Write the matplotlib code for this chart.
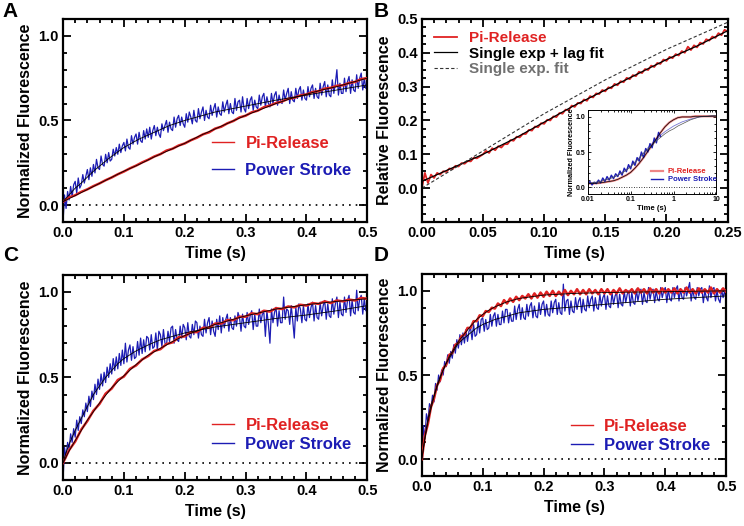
import matplotlib
matplotlib.use('Agg')
import matplotlib.pyplot as plt
import numpy as np
from matplotlib.ticker import MultipleLocator, FormatStrFormatter, FixedLocator, NullFormatter, LogLocator

plt.rcParams['font.family'] = ['Liberation Sans', 'DejaVu Sans']
plt.rcParams['font.weight'] = 'bold'
plt.rcParams['axes.labelweight'] = 'bold'

RED = '#e02222'
BLUE = '#1c1cb4'

# ---------------- Panel A data ----------------
tA_blue = np.arange(201) * 0.0025
A_blue = [-0.10, 0.06, -0.02, 0.08, 0.03, 0.11, 0.05, 0.12, 0.14, 0.07, 0.16, 0.10,
          0.12, 0.18, 0.13, 0.17, 0.21, 0.15, 0.22, 0.17, 0.24, 0.19, 0.27, 0.22,
          0.21, 0.29, 0.24, 0.23, 0.30, 0.25, 0.31, 0.26, 0.27, 0.33, 0.29, 0.34,
          0.30, 0.36, 0.31, 0.35, 0.37, 0.32, 0.39, 0.34, 0.33, 0.41, 0.36, 0.40,
          0.42, 0.36, 0.43, 0.38, 0.37, 0.44, 0.39, 0.45, 0.40, 0.46, 0.39, 0.44,
          0.47, 0.41, 0.46, 0.42, 0.40, 0.48, 0.44, 0.47, 0.50, 0.43, 0.49, 0.45,
          0.44, 0.52, 0.46, 0.51, 0.53, 0.47, 0.52, 0.48, 0.46, 0.54, 0.49, 0.55,
          0.52, 0.48, 0.56, 0.50, 0.49, 0.57, 0.51, 0.55, 0.58, 0.50, 0.56, 0.52,
          0.51, 0.59, 0.53, 0.57, 0.60, 0.52, 0.58, 0.54, 0.53, 0.61, 0.55, 0.59,
          0.62, 0.54, 0.60, 0.55, 0.54, 0.63, 0.56, 0.61, 0.62, 0.55, 0.64, 0.57,
          0.55, 0.63, 0.57, 0.62, 0.64, 0.56, 0.62, 0.58, 0.57, 0.65, 0.59, 0.64,
          0.66, 0.58, 0.64, 0.60, 0.58, 0.66, 0.60, 0.65, 0.67, 0.59, 0.65, 0.61,
          0.60, 0.68, 0.62, 0.66, 0.69, 0.60, 0.67, 0.62, 0.61, 0.69, 0.63, 0.68,
          0.70, 0.62, 0.68, 0.63, 0.62, 0.70, 0.64, 0.69, 0.71, 0.63, 0.69, 0.64,
          0.63, 0.72, 0.65, 0.70, 0.73, 0.64, 0.71, 0.65, 0.64, 0.74, 0.66, 0.72,
          0.80, 0.65, 0.72, 0.66, 0.66, 0.75, 0.67, 0.73, 0.76, 0.66, 0.74, 0.68,
          0.67, 0.77, 0.69, 0.75, 0.78, 0.68, 0.75, 0.69, 0.72]
tA_red = np.arange(51) * 0.01
A_red = [0.02, 0.045, 0.058, 0.078, 0.093, 0.112, 0.128, 0.147, 0.163, 0.182,
         0.198, 0.217, 0.233, 0.252, 0.268, 0.287, 0.301, 0.322, 0.333, 0.352,
         0.364, 0.383, 0.398, 0.418, 0.43, 0.452, 0.463, 0.483, 0.497, 0.518,
         0.528, 0.548, 0.558, 0.578, 0.588, 0.603, 0.612, 0.628, 0.634, 0.648,
         0.654, 0.668, 0.673, 0.688, 0.693, 0.705, 0.708, 0.722, 0.728, 0.745,
         0.75]
tA_fit_blue = [0, 0.01, 0.02, 0.03, 0.04, 0.05, 0.075, 0.1, 0.125, 0.15, 0.175,
               0.2, 0.25, 0.3, 0.35, 0.4, 0.45, 0.5]
A_fit_blue = [0.02, 0.06, 0.10, 0.13, 0.165, 0.20, 0.275, 0.34, 0.39, 0.43, 0.47,
              0.50, 0.55, 0.585, 0.62, 0.65, 0.68, 0.71]
tA_fit_red = np.arange(21) * 0.025
A_fit_red = [0.02, 0.065, 0.11, 0.155, 0.20, 0.24, 0.285, 0.325, 0.365, 0.41,
             0.45, 0.49, 0.53, 0.565, 0.60, 0.63, 0.655, 0.68, 0.70, 0.725, 0.75]

# ---------------- Panel B data ----------------
tB = np.arange(101) * 0.0025
B_red = [0.00, 0.045, 0.015, 0.040, 0.030, 0.045, 0.040, 0.050, 0.048, 0.058,
         0.056, 0.066, 0.064, 0.074, 0.072, 0.080, 0.079, 0.090, 0.088, 0.094,
         0.100, 0.110, 0.104, 0.118, 0.112, 0.124, 0.120, 0.130, 0.130, 0.142,
         0.140, 0.152, 0.150, 0.160, 0.160, 0.172, 0.170, 0.182, 0.180, 0.192,
         0.190, 0.202, 0.200, 0.212, 0.210, 0.222, 0.220, 0.232, 0.230, 0.244,
         0.240, 0.252, 0.250, 0.262, 0.258, 0.272, 0.268, 0.280, 0.278, 0.290,
         0.286, 0.298, 0.295, 0.308, 0.304, 0.316, 0.313, 0.326, 0.322, 0.334,
         0.331, 0.344, 0.340, 0.352, 0.349, 0.362, 0.358, 0.370, 0.367, 0.380,
         0.376, 0.388, 0.384, 0.396, 0.392, 0.405, 0.400, 0.418, 0.408, 0.422,
         0.416, 0.430, 0.426, 0.440, 0.436, 0.448, 0.444, 0.458, 0.452, 0.468,
         0.462]
tB_fit = np.arange(11) * 0.025
B_lag_fit = [0.02, 0.06, 0.10, 0.145, 0.195, 0.245, 0.29, 0.335, 0.38, 0.42, 0.465]
B_exp_fit = [0.0, 0.055, 0.11, 0.165, 0.22, 0.27, 0.32, 0.365, 0.41, 0.45, 0.49]
B_yticks = [0.0, 0.1, 0.2, 0.3, 0.4, 0.5]

# inset (log time)
logt_in = np.arange(31) * 0.1 - 2.0
in_red = [0.05, 0.05, 0.055, 0.06, 0.07, 0.08, 0.09, 0.11, 0.14, 0.17,
          0.21, 0.27, 0.34, 0.42, 0.51, 0.60, 0.69, 0.78, 0.86, 0.92,
          0.96, 0.99, 1.0, 1.0, 1.0, 1.01, 1.01, 1.01, 1.01, 1.01, 1.01]
in_blue_fit = [0.05, 0.06, 0.07, 0.085, 0.10, 0.12, 0.14, 0.17, 0.21, 0.25,
               0.30, 0.36, 0.42, 0.49, 0.56, 0.62, 0.68, 0.74, 0.79, 0.83,
               0.87, 0.90, 0.93, 0.95, 0.97, 0.985, 1.0, 1.005, 1.01, 1.015, 1.02]
in_gray_fit = [0.05, 0.06, 0.07, 0.08, 0.10, 0.12, 0.14, 0.17, 0.20, 0.24,
               0.29, 0.35, 0.41, 0.48, 0.54, 0.60, 0.66, 0.71, 0.76, 0.80,
               0.83, 0.87, 0.90, 0.93, 0.96, 0.98, 1.0, 1.01, 1.01, 1.02, 1.02]
logt_in_blue = np.arange(35) * 0.05 - 2.0
in_blue = [0.04, 0.08, 0.03, 0.07, 0.05, 0.10, 0.06, 0.13, 0.08, 0.15,
           0.10, 0.17, 0.12, 0.19, 0.15, 0.23, 0.17, 0.27, 0.22, 0.32,
           0.26, 0.37, 0.31, 0.42, 0.37, 0.50, 0.42, 0.55, 0.50, 0.62,
           0.56, 0.70, 0.63, 0.78, 0.72]

# ---------------- Panel C data ----------------
tC_blue = np.arange(201) * 0.0025
C_blue = [-0.10, 0.09, 0.03, 0.12, 0.08, 0.17, 0.12, 0.20, 0.15, 0.25, 0.19, 0.27,
          0.23, 0.31, 0.27, 0.35, 0.30, 0.39, 0.33, 0.42, 0.37, 0.46, 0.40, 0.49,
          0.43, 0.52, 0.45, 0.53, 0.47, 0.56, 0.50, 0.58, 0.52, 0.61, 0.54, 0.62,
          0.55, 0.64, 0.57, 0.66, 0.58, 0.70, 0.59, 0.66, 0.69, 0.60, 0.68, 0.61,
          0.62, 0.71, 0.63, 0.73, 0.64, 0.72, 0.65, 0.74, 0.73, 0.66, 0.75, 0.67,
          0.68, 0.76, 0.66, 0.77, 0.75, 0.68, 0.78, 0.70, 0.69, 0.77, 0.71, 0.79,
          0.80, 0.70, 0.78, 0.72, 0.71, 0.80, 0.73, 0.81, 0.79, 0.72, 0.82, 0.74,
          0.73, 0.81, 0.75, 0.83, 0.82, 0.73, 0.80, 0.75, 0.74, 0.84, 0.76, 0.82,
          0.85, 0.75, 0.83, 0.77, 0.74, 0.84, 0.78, 0.86, 0.76, 0.85, 0.79, 0.84,
          0.87, 0.77, 0.85, 0.79, 0.78, 0.86, 0.80, 0.88, 0.85, 0.77, 0.87, 0.80,
          0.79, 0.88, 0.81, 0.86, 0.89, 0.78, 0.87, 0.80, 0.80, 0.90, 0.82, 0.87,
          0.88, 0.74, 0.89, 0.81, 0.70, 0.90, 0.82, 0.88, 0.91, 0.80, 0.89, 0.82,
          0.82, 0.97, 0.84, 0.90, 0.89, 0.81, 0.92, 0.83, 0.73, 0.91, 0.83, 0.93,
          0.90, 0.82, 0.92, 0.84, 0.83, 0.93, 0.85, 0.91, 0.94, 0.83, 0.92, 0.85,
          0.84, 0.94, 0.86, 0.92, 0.95, 0.84, 0.93, 0.86, 0.85, 0.96, 0.87, 0.93,
          0.97, 0.85, 0.94, 0.87, 0.86, 0.97, 0.88, 0.95, 0.98, 0.86, 0.95, 0.88,
          0.87, 1.01, 0.89, 0.96, 0.98, 0.87, 0.96, 0.89, 0.91]
tC_red = np.arange(51) * 0.01
C_red = [0.0, 0.075, 0.125, 0.195, 0.245, 0.305, 0.345, 0.405, 0.435, 0.485,
         0.505, 0.55, 0.57, 0.605, 0.625, 0.655, 0.665, 0.695, 0.705, 0.735,
         0.74, 0.765, 0.765, 0.79, 0.79, 0.815, 0.815, 0.835, 0.835, 0.855,
         0.855, 0.875, 0.87, 0.89, 0.885, 0.905, 0.90, 0.915, 0.91, 0.925,
         0.92, 0.935, 0.93, 0.945, 0.935, 0.95, 0.945, 0.955, 0.95, 0.965,
         0.96]
tC_fit_red = [0, 0.01, 0.02, 0.03, 0.04, 0.05, 0.06, 0.08, 0.1, 0.12, 0.14, 0.16,
              0.18, 0.2, 0.25, 0.3, 0.35, 0.4, 0.45, 0.5]
C_fit_red = [0, 0.07, 0.13, 0.19, 0.25, 0.30, 0.35, 0.44, 0.51, 0.575, 0.63, 0.67,
             0.71, 0.745, 0.81, 0.86, 0.90, 0.925, 0.945, 0.96]
tC_fit_blue = [0, 0.005, 0.01, 0.015, 0.02, 0.03, 0.04, 0.05, 0.06, 0.07, 0.08,
               0.09, 0.1, 0.12, 0.14, 0.16, 0.18, 0.2, 0.25, 0.3, 0.35, 0.4, 0.45, 0.5]
C_fit_blue = [0, 0.06, 0.11, 0.15, 0.19, 0.26, 0.33, 0.40, 0.45, 0.50, 0.54,
              0.58, 0.61, 0.655, 0.69, 0.72, 0.74, 0.76, 0.795, 0.82, 0.845, 0.865,
              0.89, 0.92]

# ---------------- Panel D data ----------------
tD_blue = np.arange(201) * 0.0025
D_blue = [-0.10, 0.20, 0.12, 0.27, 0.22, 0.33, 0.30, 0.38, 0.34, 0.45, 0.41, 0.50,
          0.46, 0.53, 0.50, 0.58, 0.55, 0.62, 0.57, 0.64, 0.60, 0.68, 0.63, 0.71,
          0.66, 0.74, 0.68, 0.75, 0.69, 0.77, 0.70, 0.76, 0.78, 0.71, 0.80, 0.73,
          0.74, 0.82, 0.75, 0.83, 0.84, 0.76, 0.83, 0.77, 0.78, 0.86, 0.79, 0.85,
          0.87, 0.79, 0.86, 0.80, 0.80, 0.88, 0.81, 0.89, 0.89, 0.81, 0.87, 0.82,
          0.82, 0.91, 0.83, 0.89, 0.92, 0.83, 0.90, 0.84, 0.83, 0.92, 0.85, 0.91,
          0.93, 0.84, 0.91, 0.85, 0.84, 0.93, 0.86, 0.92, 0.94, 0.85, 0.92, 0.86,
          0.85, 0.94, 0.87, 0.93, 0.95, 0.86, 0.93, 0.87, 0.86, 1.04, 0.88, 0.94,
          0.95, 0.86, 0.94, 0.88, 0.87, 0.96, 0.89, 0.94, 0.96, 0.87, 0.95, 0.89,
          0.88, 0.97, 0.90, 0.95, 0.97, 0.88, 0.96, 0.90, 0.89, 0.98, 0.91, 0.96,
          0.98, 0.89, 0.97, 0.91, 0.90, 0.99, 0.92, 0.97, 0.99, 0.90, 0.98, 0.92,
          0.91, 1.00, 0.93, 0.98, 1.00, 0.91, 0.99, 0.93, 0.92, 1.01, 0.94, 0.99,
          1.01, 0.92, 0.99, 0.94, 0.93, 1.02, 0.95, 1.00, 1.01, 0.93, 1.00, 0.95,
          0.94, 1.02, 0.96, 1.00, 1.02, 0.93, 1.01, 0.95, 0.94, 1.02, 0.96, 1.01,
          1.03, 0.94, 1.01, 0.96, 0.95, 1.02, 0.97, 1.01, 1.05, 0.94, 1.01, 0.96,
          0.95, 1.02, 0.97, 1.01, 1.02, 0.93, 1.00, 0.96, 0.94, 1.03, 0.96, 1.01,
          1.02, 0.94, 1.00, 0.95, 0.93, 1.01, 0.96, 1.00, 0.95]
tD_red = np.arange(101) * 0.005
D_red = [0.0, 0.14, 0.21, 0.31, 0.36, 0.44, 0.47, 0.54, 0.56, 0.62,
         0.63, 0.68, 0.69, 0.73, 0.74, 0.78, 0.78, 0.82, 0.82, 0.855,
         0.85, 0.88, 0.875, 0.90, 0.895, 0.925, 0.91, 0.945, 0.925, 0.955,
         0.935, 0.965, 0.945, 0.97, 0.955, 0.98, 0.955, 0.985, 0.96, 0.99,
         0.965, 0.995, 0.97, 1.0, 0.97, 0.995, 0.975, 1.005, 0.975, 1.0,
         0.98, 1.01, 0.98, 1.005, 0.98, 1.01, 0.985, 1.005, 0.98, 1.01,
         0.985, 1.01, 0.98, 1.005, 0.985, 1.015, 0.985, 1.005, 0.99, 1.01,
         0.985, 1.015, 0.99, 1.01, 0.985, 1.015, 0.99, 1.01, 0.985, 1.015,
         0.99, 1.01, 0.99, 1.015, 0.985, 1.01, 0.99, 1.02, 0.99, 1.01,
         0.985, 1.015, 0.99, 1.01, 0.99, 1.02, 0.985, 1.01, 0.99, 1.015,
         0.995]
tD_fit = [0, 0.005, 0.01, 0.015, 0.02, 0.025, 0.03, 0.035, 0.04, 0.045, 0.05,
          0.06, 0.07, 0.08, 0.09, 0.1, 0.11, 0.12, 0.13, 0.14, 0.15, 0.16,
          0.18, 0.2, 0.25, 0.3, 0.35, 0.4, 0.45, 0.5]
D_fit_red = [0, 0.12, 0.22, 0.30, 0.37, 0.43, 0.48, 0.53, 0.57, 0.61, 0.64,
             0.70, 0.745, 0.79, 0.83, 0.86, 0.885, 0.905, 0.92, 0.935, 0.945, 0.955,
             0.965, 0.975, 0.985, 0.99, 0.993, 0.995, 0.998, 1.0]
D_fit_blue = [0, 0.13, 0.24, 0.32, 0.38, 0.44, 0.49, 0.53, 0.57, 0.60, 0.63,
              0.69, 0.72, 0.75, 0.78, 0.80, 0.815, 0.83, 0.84, 0.85, 0.86, 0.87,
              0.88, 0.89, 0.905, 0.92, 0.935, 0.95, 0.96, 0.97]


def style(ax, xmaj, xmin, ymaj, ymin, xfmt, yfmt):
    ax.xaxis.set_major_locator(MultipleLocator(xmaj))
    ax.xaxis.set_minor_locator(MultipleLocator(xmin))
    ax.yaxis.set_major_locator(MultipleLocator(ymaj))
    ax.yaxis.set_minor_locator(MultipleLocator(ymin))
    ax.xaxis.set_major_formatter(FormatStrFormatter(xfmt))
    ax.yaxis.set_major_formatter(FormatStrFormatter(yfmt))
    ax.tick_params(which='both', direction='in', top=True, right=True, width=1.3)
    ax.tick_params(which='major', length=5.5, labelsize=10.5, pad=3)
    ax.tick_params(which='minor', length=3)
    for s in ax.spines.values():
        s.set_linewidth(1.6)


def two_legend(ax, x, y, spacing):
    leg = ax.legend(loc='center left', bbox_to_anchor=(x, y), frameon=False,
                    fontsize=12, handlelength=1.3, handletextpad=0.7,
                    labelspacing=spacing, borderpad=0, borderaxespad=0)
    for txt, c in zip(leg.get_texts(), [RED, BLUE]):
        txt.set_color(c)
    for h in leg.legend_handles:
        h.set_linewidth(1.0)


def kinetics(ax, t_red, y_red, t_blue, y_blue, tf_red, f_red, tf_blue, f_blue):
    # data traces (red listed first for legend order, drawn over the blue)
    ax.hlines(0, 0.01, 0.5, colors='black', linestyles=(0, (1, 3)), linewidth=1.2)
    ax.plot(t_red, y_red, color=RED, lw=1.8, label='Pi-Release', zorder=3)
    ax.plot(t_blue, y_blue, color=BLUE, lw=0.9, label='Power Stroke', zorder=2)
    ax.plot(tf_red, f_red, color='black', lw=0.6, zorder=4)
    ax.plot(tf_blue, f_blue, color='black', lw=0.6, zorder=4)
    ax.set_xlim(0, 0.5)
    ax.set_ylim(-0.1, 1.1)
    style(ax, 0.1, 0.02, 0.5, 0.1, '%.1f', '%.1f')
    ax.set_xlabel('Time (s)', fontsize=11.5)
    ax.set_ylabel('Normalized Fluorescence', fontsize=11.5)


fig = plt.figure(figsize=(7.44, 5.26), dpi=100)
axA = fig.add_axes([0.0847, 0.578, 0.409, 0.386])
axB = fig.add_axes([0.567, 0.578, 0.411, 0.386])
axC = fig.add_axes([0.0847, 0.0875, 0.409, 0.39])
axD = fig.add_axes([0.567, 0.095, 0.409, 0.384])

# Panel A
kinetics(axA, tA_red, A_red, tA_blue, A_blue, tA_fit_red, A_fit_red, tA_fit_blue, A_fit_blue)
two_legend(axA, 0.49, 0.32, 0.7)

# Panel B
axB.plot(tB, B_red, color=RED, lw=1.3, label='Pi-Release')
axB.plot(tB_fit, B_lag_fit, color='black', lw=0.9, label='Single exp + lag fit')
axB.plot(tB_fit, B_exp_fit, color='#333333', lw=0.8, ls=(0, (3, 2)), label='Single exp. fit')
axB.set_xlim(0, 0.25)
axB.set_ylim(-0.1, 0.5)
style(axB, 0.05, 0.01, 0.1, 0.025, '%.2f', '%.1f')
axB.yaxis.set_major_locator(FixedLocator(B_yticks))
axB.set_xlabel('Time (s)', fontsize=11.5)
axB.set_ylabel('Relative Fluorescence', fontsize=11.5)
legB = axB.legend(loc='upper left', bbox_to_anchor=(0.041, 0.94), frameon=False,
                  fontsize=11, handlelength=1.45, handletextpad=0.8,
                  labelspacing=0.1, borderpad=0, borderaxespad=0)
for txt, c in zip(legB.get_texts(), [RED, 'black', '#707070']):
    txt.set_color(c)

# Inset in panel B
axIn = fig.add_axes([0.790, 0.631, 0.173, 0.160])
axIn.set_xscale('log')
axIn.hlines(0, 0.012, 10, colors='black', linestyles=(0, (1, 2)), linewidth=0.6)
axIn.plot(10 ** logt_in, in_red, color=RED, lw=1.6, alpha=0.55, label='Pi-Release')
axIn.plot(10 ** logt_in_blue, in_blue, color=BLUE, lw=1.0, label='Power Stroke')
axIn.plot(10 ** logt_in, in_blue_fit, color=BLUE, lw=0.6, alpha=0.6)
axIn.plot(10 ** logt_in, in_gray_fit, color='#555555', lw=0.5)
axIn.plot(10 ** logt_in, in_red, color='black', lw=0.5)
axIn.set_xlim(0.01, 10)
axIn.set_ylim(-0.1, 1.1)
axIn.xaxis.set_major_locator(FixedLocator([0.01, 0.1, 1, 10]))
axIn.set_xticklabels(['0.01', '0.1', '1', '10'])
axIn.xaxis.set_minor_locator(LogLocator(base=10, subs=np.arange(2, 10)))
axIn.xaxis.set_minor_formatter(NullFormatter())
axIn.yaxis.set_major_locator(MultipleLocator(0.5))
axIn.yaxis.set_minor_locator(MultipleLocator(0.1))
axIn.yaxis.set_major_formatter(FormatStrFormatter('%.1f'))
axIn.tick_params(which='both', direction='in', top=True, right=True, width=0.6)
axIn.tick_params(which='major', length=2.5, labelsize=5, pad=1.5)
axIn.tick_params(which='minor', length=1.3)
for s in axIn.spines.values():
    s.set_linewidth(0.7)
axIn.set_xlabel('Time (s)', fontsize=5.5, labelpad=1)
axIn.set_ylabel('Normalized Fluorescence', fontsize=5.2, labelpad=1)
legIn = axIn.legend(loc='center left', bbox_to_anchor=(0.49, 0.22), frameon=False,
                    fontsize=5.5, handlelength=1.6, handletextpad=0.6,
                    labelspacing=0.1, borderpad=0, borderaxespad=0)
for txt, c in zip(legIn.get_texts(), [RED, BLUE]):
    txt.set_color(c)

# Panel C
kinetics(axC, tC_red, C_red, tC_blue, C_blue, tC_fit_red, C_fit_red, tC_fit_blue, C_fit_blue)
two_legend(axC, 0.49, 0.22, 0.25)

# Panel D
kinetics(axD, tD_red, D_red, tD_blue, D_blue, tD_fit, D_fit_red, tD_fit, D_fit_blue)
two_legend(axD, 0.49, 0.20, 0.25)

# panel letters
for lab, x, y in [('A', 0.004, 0.997), ('B', 0.502, 0.997),
                  ('C', 0.004, 0.532), ('D', 0.502, 0.532)]:
    fig.text(x, y, lab, fontsize=15, fontweight='bold', va='top', ha='left')

fig.savefig('out.png', dpi=100, facecolor='white')
